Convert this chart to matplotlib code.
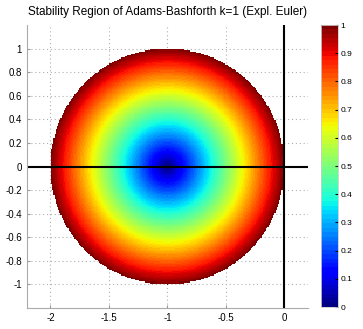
import matplotlib
matplotlib.use("Agg")
import matplotlib.pyplot as plt
import numpy as np

plt.rcParams["font.family"] = ["Liberation Sans", "DejaVu Sans"]

# sampling of the complex plane and stability function of explicit Euler
X_RANGE = [-2.2, 0.2]
Y_RANGE = [-1.2, 1.2]
STEP = 0.01
X_TICKS = [-2, -1.5, -1, -0.5, 0]
Y_TICKS = [-1, -0.8, -0.6, -0.4, -0.2, 0, 0.2, 0.4, 0.6, 0.8, 1]
CBAR_TICKS = [0, 0.1, 0.2, 0.3, 0.4, 0.5, 0.6, 0.7, 0.8, 0.9, 1]
TITLE = "Stability Region of Adams-Bashforth k=1 (Expl. Euler)"

xs = np.arange(X_RANGE[0], X_RANGE[1] + STEP / 2, STEP)
ys = np.arange(Y_RANGE[0], Y_RANGE[1] + STEP / 2, STEP)
xx, yy = np.meshgrid(xs, ys)
amp = np.abs(1 + (xx + 1j * yy))
amp = np.ma.masked_where(amp > 1, amp)

fig = plt.figure(figsize=(3.63, 3.29), dpi=100)
ax = fig.add_axes([0.0744, 0.0638, 0.7736, 0.8602])
cax = fig.add_axes([0.884, 0.0668, 0.047, 0.8572])

cmap = plt.get_cmap("jet", 64)
mesh = ax.pcolormesh(xx, yy, amp, cmap=cmap, vmin=0, vmax=1, shading="nearest")
ax.axhline(0, color="black", lw=1.5)
ax.axvline(0, color="black", lw=1.5)

ax.set_xlim(X_RANGE)
ax.set_ylim(Y_RANGE)
ax.set_xticks(X_TICKS)
ax.set_xticklabels([f"{t:g}" for t in X_TICKS])
ax.set_yticks(Y_TICKS)
ax.set_yticklabels([f"{t:g}" for t in Y_TICKS])
ax.set_axisbelow(True)
ax.grid(True, color="#b0b0b0", ls=(0, (1, 2.5)), lw=0.8)
ax.tick_params(labelsize=7, direction="in", length=2, color="#999999")
for side in ["top", "right"]:
    ax.spines[side].set_visible(False)
for side in ["left", "bottom"]:
    ax.spines[side].set_color("#aaaaaa")
    ax.spines[side].set_linewidth(0.8)
ax.set_title(TITLE, fontsize=8.5, pad=7)

cb = fig.colorbar(mesh, cax=cax, ticks=CBAR_TICKS)
cb.ax.set_yticklabels([f"{t:g}" for t in CBAR_TICKS])
cb.ax.tick_params(labelsize=6, direction="in", length=2, pad=2)
cb.outline.set_edgecolor("#cccccc")
cb.outline.set_linewidth(0.6)

fig.savefig("out.png", dpi=100)
